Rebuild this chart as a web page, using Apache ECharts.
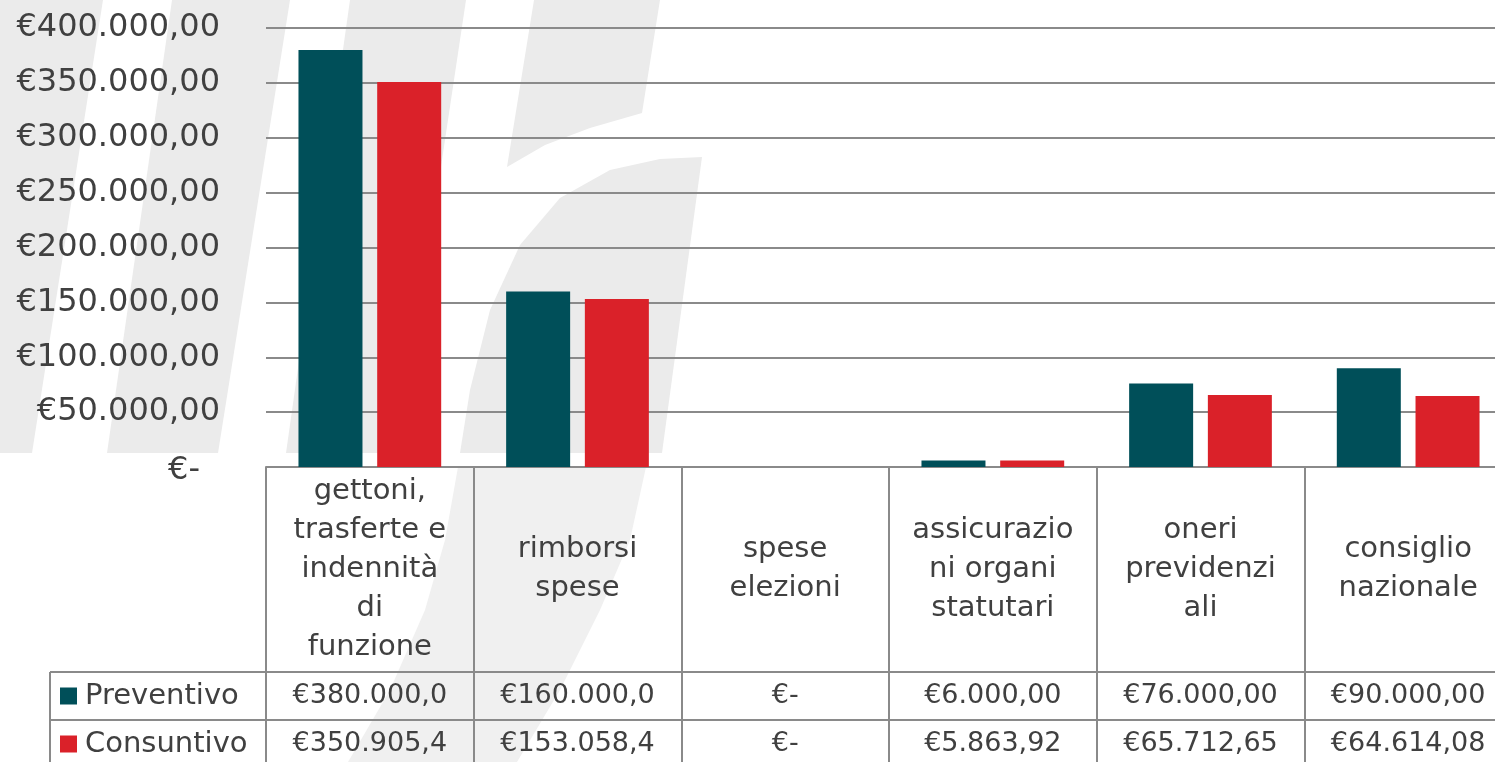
<!DOCTYPE html>
<html>
<head>
<meta charset="utf-8">
<script src="https://cdn.jsdelivr.net/npm/echarts@6/dist/echarts.min.js"></script>
<style>
  html, body { margin: 0; padding: 0; background: #fff; }
  #chart { width: 1495px; height: 762px; }
</style>
</head>
<body>
<div id="chart"></div>
<script>
// categorie (a capo come nella tabella dati)
var categorie = [
    'gettoni,\ntrasferte e\nindennità\ndi\nfunzione',
    'rimborsi\nspese',
    'spese\nelezioni',
    'assicurazio\nni organi\nstatutari',
    'oneri\nprevidenzi\nali',
    'consiglio\nnazionale'
];
var preventivo = [380000, 160000, 0, 6000, 76000, 90000];
var consuntivo = [350905.4, 153058.4, 0, 5863.92, 65712.65, 64614.08];
var nomiSerie = ['Preventivo', 'Consuntivo'];

var FONT = 'DejaVu Sans';
var GRIGIO = '#8a8a8a';
var TESTO = '#404040';

// formato euro italiano: €1.234,56 - lo zero come "€-"
function euro(v) {
    if (v === 0) return '€-';
    var p = v.toFixed(2).split('.');
    return '€' + p[0].replace(/\B(?=(\d{3})+(?!\d))/g, '.') + ',' + p[1];
}

var myChart = echarts.init(document.getElementById('chart'));

// riga della tabella dati sotto l'asse
function rigaTabella(valori, offset) {
    return {
        type: 'category',
        gridIndex: 0,
        position: 'bottom',
        offset: offset,
        data: categorie,
        axisLine: { lineStyle: { color: GRIGIO, width: 2 } },
        axisTick: { show: true, length: 48, interval: 0, lineStyle: { color: GRIGIO, width: 2 } },
        axisLabel: {
            interval: 0,
            margin: 24,
            verticalAlign: 'middle',
            fontFamily: FONT,
            fontSize: 27,
            color: TESTO,
            width: 164,
            overflow: 'truncate',
            ellipsis: '',
            formatter: function (val, i) { return euro(valori[i]); }
        }
    };
}

myChart.setOption({
    animation: false,
    backgroundColor: '#fff',
    // filigrana di sfondo
    graphic: [
        { type: 'polygon', z: -10, shape: { points: [[0, 0], [103, 0], [32, 453], [0, 453]] }, style: { fill: '#ebebeb' } },
        { type: 'polygon', z: -10, shape: { points: [[172, 0], [290, 0], [218, 453], [107, 453]] }, style: { fill: '#ebebeb' } },
        { type: 'polygon', z: -10, shape: { points: [[350, 0], [466, 0], [398, 453], [286, 453]] }, style: { fill: '#ebebeb' } },
        { type: 'polygon', z: -10, shape: { points: [[534, 0], [660, 0], [642, 113], [590, 128], [545, 145], [507, 167]] }, style: { fill: '#ebebeb' } },
        { type: 'polygon', z: -10, shape: { points: [[702, 157], [662, 453], [460, 453], [470, 390], [490, 310], [520, 245], [560, 198], [610, 170], [660, 159]] }, style: { fill: '#ebebeb' } },
        { type: 'polygon', z: -10, shape: { points: [[458, 467], [646, 467], [630, 540], [600, 610], [560, 690], [517, 762], [348, 762], [390, 690], [425, 610], [445, 540]] }, style: { fill: '#f0f0f0' } },
        // bordo sinistro della tabella (colonna legenda)
        { type: 'line', shape: { x1: 50, y1: 672, x2: 266, y2: 672 }, style: { stroke: GRIGIO, lineWidth: 2 } },
        { type: 'line', shape: { x1: 50, y1: 720, x2: 266, y2: 720 }, style: { stroke: GRIGIO, lineWidth: 2 } },
        { type: 'line', shape: { x1: 50, y1: 672, x2: 50, y2: 770 }, style: { stroke: GRIGIO, lineWidth: 2 } }
    ],
    legend: {
        orient: 'vertical',
        left: 60,
        top: 681,
        padding: 0,
        itemWidth: 17,
        itemHeight: 17,
        itemGap: 18,
        icon: 'rect',
        data: nomiSerie,
        textStyle: { fontFamily: FONT, fontSize: 29, lineHeight: 30, color: TESTO, padding: [0, 0, 0, 3] }
    },
    grid: {
        left: 266,
        right: -17,
        top: 28,
        bottom: 295,
        containLabel: false,
        outerBoundsMode: 'none'
    },
    xAxis: [
        {
            type: 'category',
            data: categorie,
            axisLine: { lineStyle: { color: GRIGIO, width: 2 } },
            axisTick: { show: true, length: 205, interval: 0, lineStyle: { color: GRIGIO, width: 2 } },
            axisLabel: {
                interval: 0,
                margin: 102,
                verticalAlign: 'middle',
                fontFamily: FONT,
                fontSize: 29,
                lineHeight: 39,
                color: TESTO
            }
        },
        rigaTabella(preventivo, 205),
        rigaTabella(consuntivo, 253)
    ],
    yAxis: {
        type: 'value',
        min: 0,
        max: 400000,
        interval: 50000,
        axisLine: { show: false },
        axisTick: { show: false },
        splitLine: { lineStyle: { color: GRIGIO, width: 2 } },
        axisLabel: {
            margin: 46,
            fontFamily: FONT,
            fontSize: 32,
            color: TESTO,
            formatter: function (v) {
                return v === 0 ? '{z|€-}' : euro(v);
            },
            rich: {
                z: { fontFamily: FONT, fontSize: 32, color: TESTO, padding: [8, 20, 0, 0] }
            }
        }
    },
    series: [
        {
            name: nomiSerie[0],
            type: 'bar',
            data: preventivo,
            barWidth: 64,
            barGap: '23%',
            itemStyle: { color: '#004f59' }
        },
        {
            name: nomiSerie[1],
            type: 'bar',
            data: consuntivo,
            barWidth: 64,
            itemStyle: { color: '#da2129' }
        }
    ]
});
</script>
</body>
</html>
